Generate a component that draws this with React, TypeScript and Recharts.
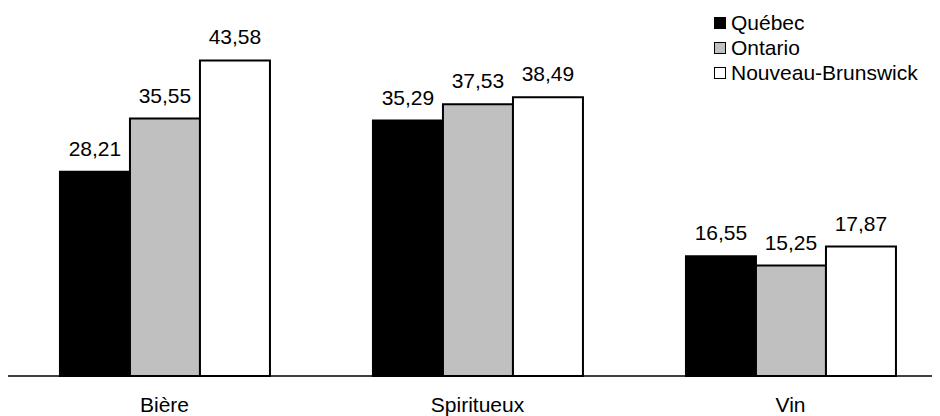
import { BarChart, Bar, XAxis, YAxis, LabelList } from "recharts";

const categories = ["Bière", "Spiritueux", "Vin"];
const quebec = [28.21, 35.29, 16.55];
const ontario = [35.55, 37.53, 15.25];
const nouveauBrunswick = [43.58, 38.49, 17.87];

const series = [
    { key: "quebec", name: "Québec", fill: "#000000" },
    { key: "ontario", name: "Ontario", fill: "#c0c0c0" },
    { key: "nb", name: "Nouveau-Brunswick", fill: "#ffffff" },
];

const data = categories.map((cat, i) => ({
    cat,
    quebec: quebec[i],
    ontario: ontario[i],
    nb: nouveauBrunswick[i],
}));

const fmt = (v: any) => Number(v).toFixed(2).replace(".", ",");

const FONT = "Liberation Sans, Arial, sans-serif";

// legend drawn as an overlay so it does not shrink the plot area
const LegendBox = () => (
    <div style={{ position: "absolute", left: 706, top: 2, fontFamily: FONT, fontSize: 21 }}>
        {series.map((s) => (
            <div key={s.key} style={{ display: "flex", alignItems: "center", height: 25 }}>
                <span
                    style={{
                        display: "inline-block",
                        width: 10,
                        height: 10,
                        background: s.fill,
                        border: "1.5px solid #000",
                        marginRight: 5,
                    }}
                />
                <span>{s.name}</span>
            </div>
        ))}
    </div>
);

export default function App() {
    return (
        <div style={{ position: "relative", fontFamily: FONT }}>
            <BarChart
                width={940}
                height={420}
                data={data}
                margin={{ top: 6, right: 1, bottom: 12, left: 0 }}
                barCategoryGap="16.6%"
                barGap={0}
            >
                <XAxis
                    dataKey="cat"
                    axisLine={{ stroke: "#000", strokeWidth: 1.5 }}
                    tickLine={false}
                    tickMargin={15}
                    height={40}
                    tick={{ fill: "#000", fontSize: 21 }}
                />
                <YAxis hide domain={[0, 50]} />
                {series.map((s) => (
                    <Bar
                        key={s.key}
                        dataKey={s.key}
                        name={s.name}
                        fill={s.fill}
                        stroke="#000"
                        strokeWidth={2}
                        isAnimationActive={false}
                    >
                        <LabelList
                            dataKey={s.key}
                            position="top"
                            offset={16}
                            formatter={fmt}
                            style={{ fill: "#000", fontSize: 21 }}
                        />
                    </Bar>
                ))}
            </BarChart>
            <LegendBox />
        </div>
    );
}
